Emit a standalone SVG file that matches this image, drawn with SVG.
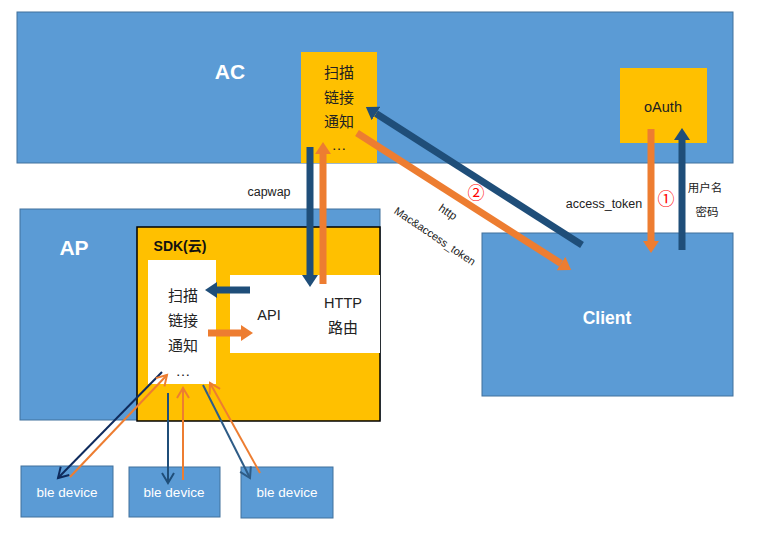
<svg xmlns="http://www.w3.org/2000/svg" width="766" height="538" viewBox="0 0 766 538">
<style>
.blue{fill:#5B9BD5;stroke:#41719C;stroke-width:1}
.yel{fill:#FFC000}
.wh{fill:#FFFFFF}
text{font-family:"Liberation Sans","Noto Sans CJK SC",sans-serif}
.big{font-size:21px;font-weight:bold;fill:#FFFFFF}
.cn{font-size:15px;fill:#222222;text-anchor:middle}
.lbl{font-size:12.5px;fill:#222222;text-anchor:middle}
.ble{font-size:13.5px;fill:#FFFFFF;text-anchor:middle}
.red{font-size:17px;fill:#FF0000;text-anchor:middle}
.tb{stroke:#1F4E79;stroke-width:7;fill:none}
.to{stroke:#ED7D31;stroke-width:7;fill:none}
.thin{stroke-width:2;fill:none}
</style>
<defs>
<marker id="hb" markerUnits="userSpaceOnUse" markerWidth="13" markerHeight="16" refX="0" refY="8" orient="auto" viewBox="0 0 13 16"><path d="M0,0 L12,8 L0,16 z" fill="#1F4E79"/></marker>
<marker id="ho" markerUnits="userSpaceOnUse" markerWidth="13" markerHeight="16" refX="0" refY="8" orient="auto" viewBox="0 0 13 16"><path d="M0,0 L12,8 L0,16 z" fill="#ED7D31"/></marker>
<marker id="vn" markerUnits="userSpaceOnUse" markerWidth="14" markerHeight="16" refX="11" refY="7" orient="auto" viewBox="0 0 14 16"><path d="M1,1 L11,7 L1,13" fill="none" stroke="#0E2A5C" stroke-width="2"/></marker>
<marker id="vb" markerUnits="userSpaceOnUse" markerWidth="14" markerHeight="16" refX="11" refY="7" orient="auto" viewBox="0 0 14 16"><path d="M1,1 L11,7 L1,13" fill="none" stroke="#1F4E79" stroke-width="2"/></marker>
<marker id="vs" markerUnits="userSpaceOnUse" markerWidth="14" markerHeight="16" refX="11" refY="7" orient="auto" viewBox="0 0 14 16"><path d="M1,1 L11,7 L1,13" fill="none" stroke="#2E5C87" stroke-width="2"/></marker>
<marker id="vo" markerUnits="userSpaceOnUse" markerWidth="14" markerHeight="16" refX="11" refY="7" orient="auto" viewBox="0 0 14 16"><path d="M1,1 L11,7 L1,13" fill="none" stroke="#ED7D31" stroke-width="2"/></marker>
</defs>

<g id="AC">
<rect class="blue" x="17" y="12" width="716" height="151"/>
<text class="big" x="230" y="79" text-anchor="middle">AC</text>
</g>
<g id="AC-notify">
<rect class="yel" x="301" y="52" width="76" height="111"/>
<text class="cn" x="339" y="78">扫描</text>
<text class="cn" x="339" y="103">链接</text>
<text class="cn" x="339" y="127">通知</text>
<text class="cn" x="339" y="150">…</text>
</g>
<g id="oAuth">
<rect class="yel" x="620" y="68" width="87" height="75"/>
<text x="663" y="112" font-size="14.5" fill="#222222" text-anchor="middle">oAuth</text>
</g>
<g id="AP">
<rect class="blue" x="20" y="209" width="360" height="211"/>
<text class="big" x="74" y="255" text-anchor="middle" font-size="23">AP</text>
</g>
<g id="SDK">
<rect x="137" y="227" width="243" height="194" fill="#FFC000" stroke="#000000" stroke-width="1.5"/>
<text x="180" y="251" font-size="14" font-weight="bold" fill="#111111" text-anchor="middle">SDK(云)</text>
</g>
<g id="SDK-notify">
<rect class="wh" x="148" y="260" width="68" height="124"/>
<text class="cn" x="183" y="301">扫描</text>
<text class="cn" x="183" y="326">链接</text>
<text class="cn" x="183" y="351">通知</text>
<text class="cn" x="183" y="376">…</text>
</g>
<g id="API-HTTP">
<rect class="wh" x="230" y="275" width="150" height="78"/>
<text x="269" y="320" font-size="14.5" fill="#222222" text-anchor="middle">API</text>
<text x="343" y="308" font-size="14.5" fill="#222222" text-anchor="middle">HTTP</text>
<text class="cn" x="343" y="333">路由</text>
</g>
<g id="Client">
<rect class="blue" x="482" y="233" width="251" height="163"/>
<text x="607" y="324" font-size="17.5" font-weight="bold" fill="#FFFFFF" text-anchor="middle">Client</text>
</g>
<g id="ble1">
<rect class="blue" x="21" y="466" width="92" height="51"/>
<text class="ble" x="67" y="497">ble device</text>
</g>
<g id="ble2">
<rect class="blue" x="129" y="467" width="91" height="50"/>
<text class="ble" x="174" y="497">ble device</text>
</g>
<g id="ble3">
<rect class="blue" x="241" y="467" width="92" height="51"/>
<text class="ble" x="287" y="497">ble device</text>
</g>

<g id="connectors">
<line class="tb" x1="310" y1="147" x2="310" y2="275" marker-end="url(#hb)"/>
<line class="to" x1="323" y1="284" x2="323" y2="154" marker-end="url(#ho)"/>
<line class="tb" x1="582" y1="245" x2="376" y2="113.5" marker-end="url(#hb)"/>
<line class="to" x1="357" y1="133" x2="561" y2="263.5" marker-end="url(#ho)"/>
<line class="to" x1="651" y1="129" x2="651" y2="241" marker-end="url(#ho)"/>
<line class="tb" x1="682" y1="250" x2="682" y2="140" marker-end="url(#hb)"/>
<line class="tb" x1="250" y1="290" x2="217" y2="290" marker-end="url(#hb)"/>
<line class="to" x1="208" y1="333" x2="241" y2="333" marker-end="url(#ho)"/>

<line class="thin" stroke="#0E2A5C" x1="162" y1="372" x2="58" y2="478" marker-end="url(#vn)"/>
<line class="thin" stroke="#ED7D31" x1="70" y1="477" x2="167" y2="375" marker-end="url(#vo)"/>
<line class="thin" stroke="#1F4E79" x1="168" y1="393" x2="168" y2="483" marker-end="url(#vb)"/>
<line class="thin" stroke="#ED7D31" x1="183" y1="480" x2="183" y2="388" marker-end="url(#vo)"/>
<line class="thin" stroke="#2E5C87" x1="203" y1="385" x2="250" y2="478" marker-end="url(#vs)"/>
<line class="thin" stroke="#ED7D31" x1="260" y1="473" x2="210" y2="383" marker-end="url(#vo)"/>

<text class="lbl" x="269" y="196">capwap</text>
<text class="lbl" x="604" y="208">access_token</text>
<text class="red" x="666" y="205">①</text>
<text x="705" y="192" font-size="11.5" fill="#222222" text-anchor="middle">用户名</text>
<text x="707" y="216" font-size="11.5" fill="#222222" text-anchor="middle">密码</text>
<text class="red" x="476" y="199">②</text>
<text x="448" y="216" font-size="11.5" fill="#222222" text-anchor="middle" transform="rotate(34 448 212)">http</text>
<text x="435" y="240" font-size="11" fill="#222222" text-anchor="middle" transform="rotate(34 435 236)">Mac&amp;access_token</text>
</g>
</svg>
